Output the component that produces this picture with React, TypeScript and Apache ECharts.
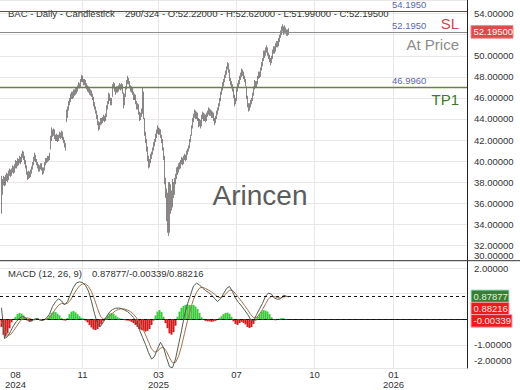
import React, { useEffect, useRef } from 'react';
import * as echarts from 'echarts';

// ---------- DATA ----------
// daily candles [open, close, low, high]
const candles: number[][] = [
  [38.4,37.2,35.0,38.6],[37.3,38.0,36.8,38.3],[38.0,38.2,37.7,38.6],[38.3,37.9,37.6,38.5],[37.9,38.4,37.7,38.7],
  [38.4,38.6,38.1,38.9],[38.6,38.3,38.0,38.8],[38.4,38.9,38.2,39.1],[38.9,39.0,38.6,39.3],[39.0,38.8,38.5,39.2],
  [38.8,39.1,38.6,39.3],[39.1,39.3,38.9,39.6],[39.3,39.0,38.8,39.5],[39.0,39.5,38.9,39.7],[39.5,39.8,39.3,40.1],
  [39.8,39.6,39.3,40.0],[39.6,40.0,39.5,40.3],[40.0,39.9,39.6,40.2],[39.9,40.2,39.8,40.5],[40.2,40.0,39.7,40.4],
  [40.0,40.5,39.9,40.7],[40.5,40.8,40.3,41.0],[40.8,40.3,40.1,40.9],[40.3,39.9,39.7,40.5],[39.9,39.5,39.3,40.1],
  [39.5,38.9,38.7,39.6],[38.9,38.5,38.2,39.0],[38.5,38.8,38.3,39.1],[38.8,38.6,38.4,39.0],[38.6,39.0,38.5,39.2],
  [39.0,39.3,38.8,39.5],[39.3,39.7,39.2,39.9],[39.7,40.2,39.6,40.4],[40.2,40.5,40.0,40.8],[40.5,40.1,39.9,40.6],
  [40.1,39.8,39.6,40.2],[39.8,39.5,39.3,39.9],[39.5,39.2,39.0,39.7],[39.2,39.4,39.0,39.6],[39.4,39.6,39.2,39.8],
  [39.6,39.3,39.1,39.8],[39.3,38.9,38.7,39.4],[38.9,39.2,38.8,39.4],[39.2,39.7,39.1,39.9],[39.7,40.1,39.6,40.3],
  [40.1,40.0,39.8,40.3],[40.0,40.3,39.9,40.5],[40.3,40.2,40.0,40.5],[40.2,40.6,40.1,40.8],[41.3,42.0,41.1,42.4],
  [42.1,42.8,41.9,43.2],[42.8,42.6,42.3,43.0],[42.6,42.9,42.4,43.1],[42.9,42.3,42.1,43.0],[42.3,42.1,41.9,42.5],
  [42.1,42.4,41.9,42.6],[42.4,42.0,41.8,42.5],[42.0,42.3,41.9,42.5],[42.3,42.6,42.2,42.8],[42.6,42.4,42.1,42.7],
  [42.4,42.7,42.2,42.9],[42.7,42.2,42.0,42.8],[42.2,41.9,41.7,42.3],[41.9,41.5,41.3,42.0],[41.5,41.3,41.0,41.7],
  [43.9,44.3,43.7,44.9],[44.3,45.0,44.1,45.2],[45.0,45.5,44.8,45.7],[45.5,45.8,45.3,46.0],[45.8,46.2,45.6,46.4],
  [46.2,46.4,45.9,46.6],[46.4,46.1,45.9,46.6],[46.1,46.6,46.0,46.8],[46.6,46.5,46.2,46.8],[46.5,46.8,46.3,47.0],
  [46.8,46.7,46.4,47.0],[46.7,47.0,46.6,47.2],[47.0,47.3,46.9,47.5],[47.3,47.1,46.9,47.4],[47.1,47.6,47.0,47.8],
  [47.6,48.0,47.5,48.2],[48.0,47.7,47.5,48.1],[47.7,47.4,47.2,47.8],[47.4,47.6,47.2,47.8],[47.6,47.2,47.0,47.7],
  [47.2,47.0,46.8,47.4],[47.0,46.8,46.6,47.2],[46.8,46.9,46.5,47.1],[46.9,46.5,46.3,47.0],[46.5,46.6,46.2,46.8],
  [46.6,46.3,46.1,46.7],[46.3,46.0,45.8,46.4],[46.0,45.4,45.2,46.1],[45.4,45.1,44.9,45.6],[45.1,44.7,44.5,45.2],
  [44.7,44.3,44.0,44.8],[44.3,43.6,43.4,44.4],[43.6,43.2,42.9,43.8],[43.2,43.5,43.0,43.7],[43.5,43.9,43.4,44.1],
  [43.9,43.7,43.5,44.1],[43.7,44.0,43.6,44.2],[44.0,44.2,43.8,44.4],[44.2,43.9,43.7,44.3],[43.9,44.3,43.8,44.5],
  [44.3,45.1,44.2,45.3],[45.1,45.5,44.9,45.7],[45.5,46.3,45.4,46.5],[46.3,45.9,45.7,46.4],[45.9,45.6,45.3,46.0],
  [45.6,45.8,45.3,46.0],[46.2,47.1,46.1,47.3],[47.1,47.3,46.9,47.5],[47.3,46.8,46.6,47.4],[46.8,46.6,46.3,47.0],
  [46.6,46.9,46.5,47.1],[46.9,46.7,46.5,47.1],[46.7,47.0,46.6,47.2],[47.0,47.2,46.8,47.4],[47.2,46.9,46.7,47.3],
  [46.9,47.2,46.8,47.4],[47.2,46.6,46.4,47.3],[46.4,45.4,45.0,46.5],[45.5,46.2,45.3,46.4],[46.2,46.9,46.1,47.1],
  [46.9,47.5,46.8,47.7],[47.5,47.8,47.3,48.1],[47.8,47.5,47.3,47.9],[47.5,47.1,46.9,47.6],[47.1,46.8,46.6,47.2],
  [46.8,46.9,46.5,47.1],[46.9,46.5,46.3,47.0],[46.5,46.0,45.8,46.6],[46.0,46.2,45.8,46.4],[46.2,45.6,45.4,46.3],
  [45.6,45.1,44.9,45.7],[45.1,45.3,44.9,45.5],[45.3,44.6,44.4,45.4],[44.6,44.1,43.8,44.7],[44.1,44.4,43.9,44.6],
  [44.4,44.8,44.2,45.0],[44.7,46.8,44.5,47.0],[46.4,44.2,44.0,46.6],[44.0,42.6,42.4,44.1],[42.6,42.0,41.7,42.8],
  [42.0,41.2,40.9,42.1],[41.2,40.3,40.0,41.4],[40.3,39.6,39.3,40.5],[39.6,39.9,39.4,40.2],[39.9,40.5,39.8,40.7],
  [40.5,40.7,40.2,40.9],[40.7,41.1,40.6,41.3],[41.1,41.6,41.0,41.8],[41.6,41.9,41.4,42.1],[41.9,42.4,41.8,42.6],
  [42.4,42.8,42.2,43.0],[42.8,43.1,42.6,43.4],[43.1,42.7,42.5,43.2],[42.7,42.9,42.5,43.1],[42.9,42.4,42.2,43.0],
  [42.4,42.0,41.7,42.5],[42.0,41.2,41.0,42.1],[41.2,40.4,40.1,41.3],[40.2,38.3,37.8,40.5],[38.0,36.8,36.5,38.4],
  [36.5,35.0,34.3,37.4],[34.5,34.0,33.2,37.0],[34.8,33.6,32.9,38.0],[33.5,37.6,33.2,38.0],[36.9,35.6,35.0,37.8],
  [35.8,36.0,35.3,37.2],[36.2,37.8,35.6,38.3],[37.6,36.9,36.5,38.0],[37.0,38.1,36.8,38.4],[38.1,38.5,37.8,38.8],
  [38.5,39.2,38.3,39.4],[39.2,39.0,38.7,39.5],[39.0,39.6,38.9,39.8],[39.6,39.5,39.2,39.9],[39.5,39.9,39.3,40.1],
  [39.9,40.1,39.7,40.4],[40.1,39.8,39.6,40.3],[39.8,40.3,39.7,40.5],[40.3,40.5,40.1,40.7],[40.5,40.2,40.0,40.6],
  [40.2,40.8,40.1,41.0],[40.8,41.0,40.6,41.2],[41.0,41.3,40.9,41.5],[41.3,41.9,41.2,42.1],[41.9,42.3,41.8,42.5],
  [42.5,43.2,42.4,43.4],[43.2,43.9,43.1,44.1],[43.9,44.3,43.7,44.5],[44.3,44.7,44.1,44.9],[44.7,44.2,44.0,44.8],
  [44.2,44.5,44.0,44.7],[44.5,44.0,43.8,44.6],[44.0,43.5,43.2,44.1],[43.5,43.8,43.3,44.0],[43.8,43.4,43.1,43.9],
  [43.4,44.2,43.3,44.4],[44.2,44.5,44.0,44.7],[44.5,44.0,43.8,44.6],[44.0,44.3,43.8,44.5],[44.3,43.9,43.7,44.4],
  [43.9,44.4,43.8,44.6],[44.4,44.6,44.2,44.8],[44.6,44.9,44.4,45.1],[44.9,44.5,44.3,45.0],[44.5,44.7,44.3,44.9],
  [44.7,44.3,44.1,44.8],[44.3,44.5,44.1,44.7],[44.5,44.0,43.8,44.6],[44.0,43.7,43.4,44.1],[43.7,44.1,43.6,44.3],
  [44.1,44.6,44.0,44.8],[44.6,44.9,44.4,45.1],[44.9,45.3,44.8,45.5],[45.3,45.8,45.2,46.0],[45.8,46.4,45.7,46.6],
  [46.4,46.8,46.3,47.0],[46.8,47.3,46.7,47.5],[47.3,47.6,47.1,47.8],[47.6,48.0,47.5,48.2],[48.0,48.4,47.9,48.6],
  [48.4,48.8,48.2,49.0],[48.8,49.2,48.7,49.4],[49.2,48.6,48.4,49.3],[48.6,47.8,47.6,48.7],[47.8,47.4,47.2,47.9],
  [47.4,47.1,46.9,47.6],[47.1,46.8,46.6,47.3],[46.8,46.2,46.0,46.9],[46.2,45.6,45.2,46.3],[45.6,45.8,45.4,46.0],
  [45.8,46.7,45.7,46.9],[46.7,47.2,46.6,47.4],[47.2,47.5,47.0,47.7],[47.5,47.9,47.3,48.1],[47.9,48.2,47.7,48.4],
  [48.2,48.6,48.0,48.8],[48.6,48.4,48.1,48.7],[48.4,48.0,47.8,48.5],[48.0,47.7,47.5,48.1],[47.7,47.3,47.1,47.8],
  [47.0,46.1,45.9,47.1],[46.1,45.4,45.1,46.2],[45.4,45.0,44.7,45.5],[45.0,45.3,44.8,45.5],[45.3,45.6,45.1,45.8],
  [45.6,45.8,45.4,46.0],[45.8,46.3,45.7,46.5],[46.3,46.9,46.2,47.1],[46.9,47.5,46.8,47.7],[47.5,47.2,47.0,47.6],
  [47.2,47.4,47.0,47.6],[47.4,47.9,47.3,48.1],[47.9,48.3,47.8,48.5],[48.3,48.1,47.9,48.5],[48.1,48.7,48.0,48.9],
  [48.7,49.2,48.6,49.4],[49.2,49.6,49.0,49.8],[49.6,50.3,49.5,50.5],[50.3,50.1,49.8,50.5],[50.1,50.5,50.0,50.8],
  [50.5,50.7,50.3,51.0],[50.7,50.2,50.0,50.8],[50.2,49.9,49.7,50.3],[49.9,49.7,49.4,50.1],[49.7,49.4,49.1,49.8],
  [49.4,49.8,49.3,50.0],[49.8,50.4,49.7,50.6],[50.4,50.7,50.2,50.9],[50.7,50.5,50.2,50.9],[50.5,51.0,50.4,51.2],
  [51.0,51.2,50.8,51.4],[51.2,51.0,50.8,51.4],[51.0,51.5,50.9,51.7],[51.5,51.8,51.3,52.0],[51.8,52.2,51.7,52.4],
  [52.2,52.5,52.0,52.8],[52.5,52.7,52.3,53.0],[52.7,52.3,52.0,52.8],[52.3,52.6,52.1,52.9],[52.6,52.4,52.1,52.7],
  [52.4,52.1,51.9,52.5],[52.1,52.3,51.9,52.5],[52.22,52.195,51.99,52.62],
];

// MACD (12,26,9) line, sampled every 3rd bar, plus the last bar
const macdLine: number[] = [
  0.45,-0.75,-0.68,-0.48,-0.25,-0.08,0.05,0.12,0.06,-0.04,
  -0.06,0.0,0.02,-0.05,-0.04,0.05,0.2,0.5,0.68,0.8,
  0.72,0.56,0.69,0.98,1.25,1.42,1.46,1.43,1.32,1.1,
  0.69,0.22,-0.18,-0.27,-0.1,0.1,0.28,0.38,0.43,0.44,
  0.42,0.36,0.3,0.2,0.07,-0.15,-0.42,-0.7,-0.98,-1.3,
  -1.55,-1.45,-1.15,-0.9,-1.1,-1.5,-1.85,-1.89,-1.55,-1.0,
  -0.45,0.17,0.6,0.95,1.3,1.41,1.34,1.22,1.12,1.05,
  0.95,0.82,0.69,0.8,1.0,1.2,1.28,1.08,0.82,0.66,
  0.52,0.36,0.2,0.0,-0.08,0.18,0.4,0.62,0.9,1.02,
  0.98,0.82,0.78,0.8,0.94,0.9,
  0.87877,
];
// signal line, same sampling
const signalLine: number[] = [
  -0.1,-0.42,-0.62,-0.6,-0.45,-0.28,-0.1,0.02,0.06,0.04,
  0.0,-0.02,0.0,-0.01,-0.02,0.0,0.06,0.22,0.4,0.55,
  0.62,0.6,0.62,0.75,0.95,1.15,1.3,1.38,1.38,1.28,
  1.08,0.78,0.42,0.12,0.0,0.02,0.12,0.24,0.33,0.39,
  0.41,0.4,0.36,0.3,0.2,0.06,-0.12,-0.35,-0.6,-0.88,
  -1.15,-1.28,-1.25,-1.12,-1.1,-1.25,-1.5,-1.7,-1.68,-1.45,
  -1.05,-0.55,-0.05,0.4,0.78,1.05,1.22,1.25,1.2,1.14,
  1.07,0.98,0.88,0.84,0.9,1.02,1.14,1.13,1.0,0.85,
  0.7,0.54,0.38,0.2,0.06,0.06,0.2,0.38,0.6,0.8,
  0.9,0.88,0.85,0.83,0.87,0.89,
  0.88216,
];
// histogram, sampled every 2nd bar
const histogram: number[] = [
  -0.3,-0.6,-0.68,-0.55,-0.35,-0.12,0.02,0.1,0.2,0.25,
  0.22,0.15,0.05,-0.05,-0.1,-0.08,-0.02,0.04,0.05,0.0,
  -0.03,-0.02,0.02,0.06,0.15,0.25,0.3,0.28,0.22,0.15,
  0.05,-0.04,-0.05,0.05,0.2,0.3,0.32,0.27,0.2,0.12,
  0.06,0.03,-0.05,-0.12,-0.22,-0.32,-0.4,-0.42,-0.38,-0.3,
  -0.18,-0.06,0.06,0.15,0.22,0.25,0.22,0.15,0.08,0.04,
  0.02,-0.02,-0.04,-0.05,-0.06,-0.1,-0.15,-0.22,-0.3,-0.38,
  -0.42,-0.45,-0.48,-0.45,-0.38,-0.22,-0.05,0.15,0.3,0.36,
  0.28,0.1,-0.15,-0.35,-0.55,-0.6,-0.5,-0.25,0.1,0.3,
  0.45,0.52,0.56,0.58,0.56,0.55,0.56,0.5,0.4,0.25,
  0.08,-0.02,-0.06,-0.08,-0.08,-0.1,-0.08,-0.06,-0.02,0.06,
  0.12,0.2,0.25,0.26,0.22,0.1,-0.08,-0.18,-0.22,-0.15,
  -0.1,-0.14,-0.2,-0.3,-0.34,-0.3,-0.18,-0.05,0.1,0.2,
  0.3,0.36,0.34,0.3,0.2,0.08,-0.02,-0.04,-0.03,0.02,
  0.05,0.04,0.01,-0.00339,
];

const levelValues = [54.195, 52.195, 46.996];
const levelNames = ['SL', 'At Price', 'TP1'];
const levelTexts = ['54.1950', '52.1950', '46.9960'];
const lastClose = 52.195;
const macdNow = 0.87877;
const histNow = -0.00339;
const signalNow = 0.88216;

// axis ticks hidden behind the value boxes on the right
const coveredPriceTicks = [52];
const coveredMacdTicks = [0, 1];

const tickSlots = [15, 82, 158, 236, 314, 393];
const tickLabels = ['08\n2024', '11', '03\n2025', '07', '10', '01\n2026'];
const gridSlots = [82, 158, 236, 314, 393];

// ---------- LAYOUT / STYLE ----------
const SLOT_COUNT = 467;
const BAR_OFFSET = 1;
const FONT = '"Liberation Sans", Arial, sans-serif';
const GRID_COLOR = '#ebe6e8';
const levelLineColors = ['#7c4040', '#8c8c8c', '#6e8040'];
const levelNameColors = ['#c84a4a', '#8c8c8c', '#3d7a22'];

export default function App() {
  const ref = useRef<HTMLDivElement>(null);
  useEffect(() => {
    document.body.style.margin = '0';
    const chart = echarts.init(ref.current!, null, { renderer: 'svg' });
    const slots = Array.from({ length: SLOT_COUNT }, (_, i) => String(i));
    const candleData: any[] = ['-', ...candles];
    const macdBars = Array.from({ length: 96 }, (_, j) => 3 * j).concat([287]);
    const macdData = macdLine.map((v, j) => [macdBars[j] + BAR_OFFSET, v]);
    const signalData = signalLine.map((v, j) => [macdBars[j] + BAR_OFFSET, v]);
    const histData = histogram.map((v, k) => [2 * k + BAR_OFFSET, v]);

    const labelStyle = { fontSize: 9.5, color: '#333', fontFamily: FONT };
    const fmt = (covered: number[]) => (v: number) =>
      covered.some((c) => Math.abs(c - v) < 1e-6) ? '' : v.toFixed(5);

    chart.setOption({
      animation: false,
      backgroundColor: '#fff',
      textStyle: { fontFamily: FONT },
      grid: [
        { left: 0, top: 0, width: 467, height: 260.7 },
        { left: 0, top: 260.7, width: 467, height: 107.3 },
      ],
      xAxis: [
        {
          type: 'category', gridIndex: 0, data: slots,
          axisLine: { show: false }, axisTick: { show: false }, axisLabel: { show: false },
          splitLine: { show: true, interval: (i: number) => gridSlots.includes(i), lineStyle: { color: GRID_COLOR } },
        },
        {
          type: 'category', gridIndex: 1, data: slots,
          axisLine: { show: true, lineStyle: { color: '#222' } }, axisTick: { show: false },
          axisLabel: {
            ...labelStyle, margin: 1, lineHeight: 10,
            interval: (i: number) => tickSlots.includes(i),
            formatter: (_v: string, i: number) => { const k = tickSlots.indexOf(i); return k >= 0 ? tickLabels[k] : ''; },
          },
          splitLine: { show: true, interval: (i: number) => gridSlots.includes(i), lineStyle: { color: GRID_COLOR } },
        },
      ],
      yAxis: [
        {
          type: 'value', gridIndex: 0, position: 'right', min: 30.54, max: 55.3, minInterval: 2, maxInterval: 2,
          axisLine: { show: true, lineStyle: { color: '#222' } }, axisTick: { show: false },
          axisLabel: { ...labelStyle, margin: 7, showMinLabel: false, showMaxLabel: false, formatter: fmt(coveredPriceTicks) },
          splitLine: { lineStyle: { color: GRID_COLOR } },
        },
        {
          type: 'value', gridIndex: 1, position: 'right', min: -1.9, max: 2.285, minInterval: 1, maxInterval: 1,
          axisLine: { show: true, lineStyle: { color: '#222' } }, axisTick: { show: false },
          axisLabel: { ...labelStyle, margin: 7, showMinLabel: false, showMaxLabel: false, formatter: fmt(coveredMacdTicks) },
          splitLine: { lineStyle: { color: GRID_COLOR } },
        },
      ],
      series: [
        {
          type: 'candlestick', xAxisIndex: 0, yAxisIndex: 0, data: candleData, barWidth: 0.8,
          itemStyle: { color: '#2f7f5f', color0: '#8a2b2b', borderColor: '#262626', borderColor0: '#2a2020', borderWidth: 0.55 },
          markLine: {
            silent: true, symbol: ['none', 'none'], label: { show: false }, animation: false,
            data: levelValues.map((v, i) => ({ yAxis: v, lineStyle: { color: levelLineColors[i], width: i === 2 ? 1.4 : 1, type: 'solid' } })),
          },
        },
        {
          type: 'bar', xAxisIndex: 1, yAxisIndex: 1, data: histData, barWidth: 2,
          itemStyle: { color: (p: any) => (p.value[1] >= 0 ? '#3acb3a' : '#d21a1a') },
        },
        {
          type: 'line', xAxisIndex: 1, yAxisIndex: 1, data: signalData, showSymbol: false, symbol: 'none',
          lineStyle: { color: '#a6714f', width: 1 },
        },
        {
          type: 'line', xAxisIndex: 1, yAxisIndex: 1, data: macdData, showSymbol: false, symbol: 'none',
          lineStyle: { color: '#4f5f4f', width: 1 },
          markLine: {
            silent: true, symbol: ['none', 'none'], label: { show: false }, animation: false,
            lineStyle: { color: '#111', type: [3, 3], width: 1 },
            data: [{ yAxis: macdNow }, { yAxis: histNow }],
          },
        },
      ],
    });

    const py = (v: number) => chart.convertToPixel({ yAxisIndex: 0 }, v) as number;
    const my = (v: number) => chart.convertToPixel({ yAxisIndex: 1 }, v) as number;
    const txt = (text: string, x: number, y: number, extra: any = {}) => ({
      type: 'text', x, y, z: extra.z ?? 1,
      style: { text, fill: extra.fill ?? '#333', fontSize: extra.fontSize ?? 9.5, fontFamily: FONT,
        align: extra.align ?? 'left', verticalAlign: 'middle' },
    });
    const box = (text: string, cy: number, w: number, fill: string, stroke: string, color: string) => ({
      type: 'group', z: 100,
      children: [
        { type: 'rect', z: 100, shape: { x: 471, y: cy - 6.3, width: w, height: 12.6 }, style: { fill, stroke, lineWidth: 1 } },
        { type: 'text', z: 101, x: 473.5, y: cy, style: { text, fill: color, fontSize: 9.5, fontFamily: FONT, verticalAlign: 'middle', align: 'left' } },
      ],
    });

    const c1 = my(macdNow) - 0.5;
    const c3 = my(histNow) + 1.5;
    const c2 = (c1 + c3) / 2;
    const paneBottom = py(30.54);
    const macdBottom = my(-1.9);

    const graphics: any[] = [
      txt('BAC - Daily - Candlestick', 8, 13),
      txt('290/324 - O:52.22000 - H:52.62000 - L:51.99000 - C:52.19500', 125, 13),
      txt('MACD (12, 26, 9)', 8, 273),
      txt(macdNow.toFixed(5) + '/' + histNow.toFixed(5) + '/' + signalNow.toFixed(5), 92, 273),
      txt('Arincen', 260, 195, { fontSize: 28, fill: '#5c5c5c', align: 'center' }),
      txt('30.00000', 474, paneBottom - 4.8),
      txt('-2.00000', 474, macdBottom - 8),
      { type: 'line', z: 50, shape: { x1: 0, y1: paneBottom, x2: 520, y2: paneBottom }, style: { stroke: '#333', lineWidth: 1 } },
      box(lastClose.toFixed(5), py(lastClose) - 0.8, 42, '#dc4b4b', '#f08a8a', '#fff2f2'),
      box(macdNow.toFixed(5), c1, 38, '#3b7d36', '#9ff0d0', '#dcf5d6'),
      box(signalNow.toFixed(5), c2, 38, '#ea1c1c', '#ff9fb0', '#ffe2e2'),
      box(histNow.toFixed(5), c3, 41, '#ea1c1c', '#ff9fb0', '#ffe2e2'),
    ];
    levelValues.forEach((v, i) => {
      const y = py(v);
      graphics.push(txt(levelTexts[i], 392, y - 7, { fill: '#5a6ab2' }));
      graphics.push(txt(levelNames[i], 459, y + 12, { fontSize: 15, fill: levelNameColors[i], align: 'right' }));
    });
    chart.setOption({ graphic: graphics });

    return () => chart.dispose();
  }, []);
  return <div ref={ref} style={{ width: 520, height: 390 }} />;
}
